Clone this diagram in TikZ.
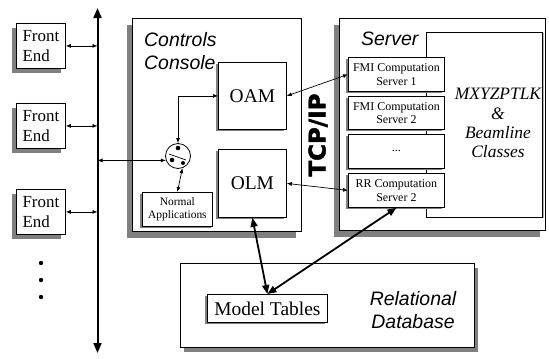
\documentclass[tikz,border=0pt]{standalone}
\usepackage{fontspec}
\setmainfont{Liberation Serif}
\setsansfont{Liberation Sans}
\newfontfamily\tcpfont[FakeBold=2]{DejaVu Sans}
\usetikzlibrary{arrows.meta}
\usetikzlibrary{shadows}
\definecolor{shadowColor}{HTML}{808080}
\definecolor{boxColor}{HTML}{FFFFFF}
\definecolor{linkColor}{HTML}{000000}
\def\textFrontEnd{Front\\End}
\def\textConsole{Controls\\Console}
\def\textServer{Server}
\def\textClasses{MXYZPTLK\\\&\\Beamline\\Classes}
\def\textDatabase{Relational\\Database}
\tikzset{
  plainBox/.style={draw, fill=boxColor, anchor=north west, inner sep=0pt, line width=0.8bp},
  frameBox/.style={plainBox, line width=1.2bp},
  frameShadow/.style={general shadow={fill=shadowColor, shadow xshift=-6bp, shadow yshift=-6bp}},
  frontEndBox/.style={plainBox, minimum width=49bp, minimum height=45bp, align=left,
    font=\fontsize{17}{20}\selectfont,
    general shadow={fill=shadowColor, shadow xshift=-4bp, shadow yshift=-5bp}},
  moduleBox/.style={plainBox, minimum width=68bp, minimum height=67bp,
    font=\fontsize{19.5}{22}\selectfont,
    general shadow={fill=shadowColor, shadow xshift=-2bp, shadow yshift=-2bp}},
  serverBox/.style={plainBox, minimum width=96bp, minimum height=34bp, align=center,
    font=\fontsize{12}{13.5}\selectfont,
    general shadow={fill=shadowColor, shadow xshift=-2bp, shadow yshift=-2bp}},
  titleText/.style={anchor=north west, inner sep=0pt, align=left,
    font=\fontsize{19.5}{23}\sffamily\itshape},
  thinLink/.style={color=linkColor, line width=0.7bp, {Latex[length=5bp,width=4bp]}-{Latex[length=5bp,width=4bp]}},
  thickLink/.style={color=linkColor, line width=1.8bp, {Triangle[length=9bp,width=7bp]}-{Triangle[length=9bp,width=7bp]}},
  busLine/.style={color=linkColor, line width=2bp, {Triangle[length=10bp,width=8bp]}-{Triangle[length=10bp,width=8bp]}}
}

\begin{document}
\begin{tikzpicture}[x=1bp,y=-1bp]
\useasboundingbox (0,0) rectangle (549,358);

% bus
\begin{scope}
\coordinate (busTop) at (97.5, 8);
\coordinate (busBottom) at (97.5, 353);
\draw[busLine] (busTop) -- (busBottom);
\end{scope}

% front end layer
\begin{scope}
\node[frontEndBox] (frontEndA) at (16, 23) {\textFrontEnd};
\node[frontEndBox] (frontEndB) at (16, 103) {\textFrontEnd};
\node[frontEndBox] (frontEndC) at (16, 189) {\textFrontEnd};
\fill (41, 263) circle (2.2) (41, 280) circle (2.2) (41, 297) circle (2.2);
\end{scope}

% frame layer
\begin{scope}
\node[frameBox, frameShadow, minimum width=169bp, minimum height=213bp] (console) at (132, 18) {};
\node[frameBox, frameShadow, minimum width=206bp, minimum height=212bp] (server) at (339, 18) {};
\node[frameBox, minimum width=294bp, minimum height=84bp,
  general shadow={fill=shadowColor, shadow xshift=3bp, shadow yshift=-4bp}] (database) at (180, 263) {};
\node[titleText] (consoleTitle) at (144, 32) {\textConsole};
\node[titleText] (serverTitle) at (361, 32) {\textServer};
\node[titleText, anchor=north, align=center] (databaseTitle) at (413, 291) {\textDatabase};
\end{scope}

% console layer
\begin{scope}
\node[moduleBox] (oam) at (218, 62) {OAM};
\node[moduleBox, minimum height=68bp] (olm) at (218, 149) {OLM};
\node[moduleBox, minimum width=70bp, minimum height=34bp, align=center,
  font=\fontsize{11.5}{13.3}\selectfont,
  general shadow={fill=shadowColor, shadow xshift=-1.5bp, shadow yshift=-2bp}] (normalApps) at (142, 192) {Normal\\Applications};
\node[draw, circle, fill=boxColor, line width=0.8bp, minimum size=25bp, inner sep=0pt] (switch) at (178, 156) {};
\fill ([shift={(0,-8)}]switch.center) circle (2.3);
\fill ([shift={(-6,4)}]switch.center) circle (2.3);
\fill ([shift={(5,7)}]switch.center) circle (2);
\draw[line width=0.7bp] ([shift={(-9,-2)}]switch.center) -- ([shift={(8,4)}]switch.center);
\end{scope}

% server layer
\begin{scope}
\node[plainBox, minimum width=116bp, minimum height=185bp,
  general shadow={fill=shadowColor!60, shadow xshift=2bp, shadow yshift=-1bp}] (classes) at (426, 32) {};
\node[inner sep=0pt, anchor=north, align=center, font=\fontsize{17.5}{19.5}\itshape] (classesText) at (498, 88) {\textClasses};
\node[serverBox] (fmiA) at (348, 57) {FMI Computation\\Server 1};
\node[serverBox, minimum height=33bp] (fmiB) at (348, 96) {FMI Computation\\Server 2};
\node[serverBox] (moreServers) at (348, 134) {...};
\node[serverBox] (rrServer) at (348, 173) {RR Computation\\Server 2};
\node[rotate=90, inner sep=0pt, font=\tcpfont\bfseries\fontsize{23}{23}\selectfont] (tcpLabel) at (318, 135) {TCP/IP};
\end{scope}

% database layer
\begin{scope}
\node[plainBox, minimum width=120bp, minimum height=28bp,
  font=\fontsize{19.5}{22}\selectfont,
  general shadow={fill=shadowColor, shadow xshift=-2bp, shadow yshift=-2bp}] (modelTables) at (207, 294) {Model Tables};
\end{scope}

% link layer
\begin{scope}
\draw[thinLink] (frontEndA.east) -- (frontEndA.east -| busTop);
\draw[thinLink] (frontEndB.east) -- (frontEndB.east -| busTop);
\draw[thinLink] (frontEndC.east) -- (frontEndC.east -| busTop);
\draw[thinLink] (switch.200) -- (switch.200 -| busTop);
\draw[thinLink] (switch.north) |- (oam.west);
\draw[thinLink] (switch.-70) -- (normalApps.north);
\draw[thinLink] (oam.east) -- (fmiA.west);
\draw[thinLink] (olm.east) -- (rrServer.west);
\draw[thickLink] (olm.south) -- (modelTables.north);
\draw[thickLink] (rrServer.south) -- (modelTables.north);
\end{scope}

\end{tikzpicture}
\end{document}
